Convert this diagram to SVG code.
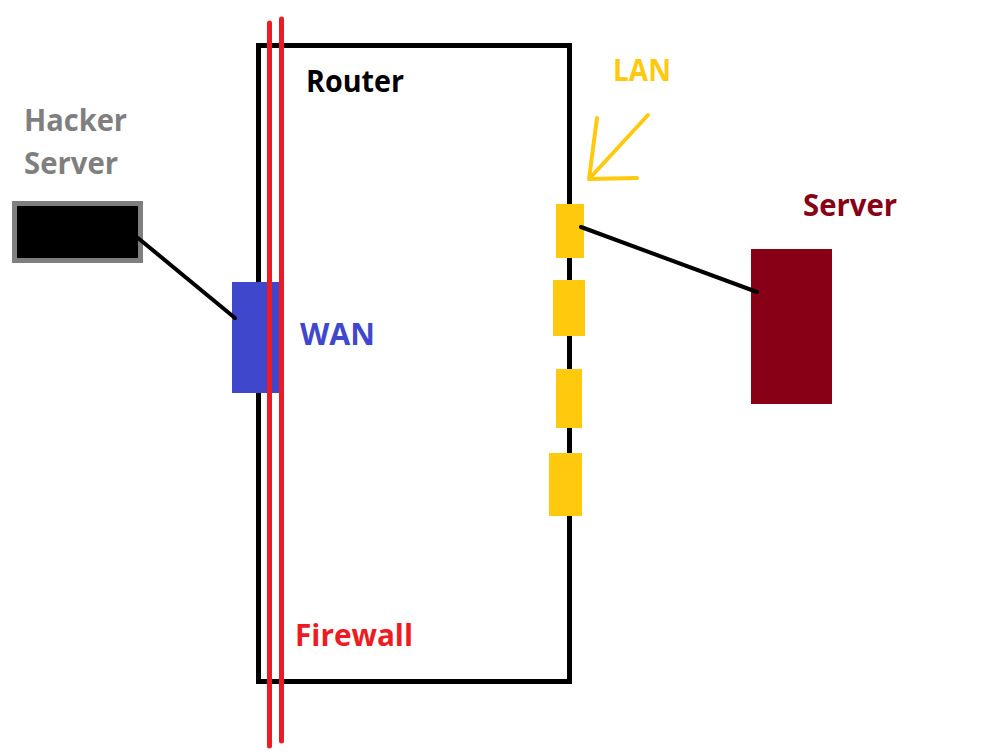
<svg xmlns="http://www.w3.org/2000/svg" width="1003" height="755" viewBox="0 0 1003 755">
<style>
.t{font-family:"Open Sans","Liberation Sans",sans-serif;font-weight:bold;font-size:30px}
.wire{stroke:#000;stroke-width:4;stroke-linecap:round;fill:none}
.fw{stroke:#ED1C24;stroke-width:5;stroke-linecap:round;fill:none}
.lan{fill:#FFC90E}
</style>
<rect width="1003" height="755" fill="#fff"/>
<g id="router">
<rect x="258.5" y="45.5" width="311" height="636" fill="none" stroke="#000" stroke-width="5"/>
<text class="t" x="306" y="92" textLength="98" lengthAdjust="spacingAndGlyphs">Router</text>
</g>
<g id="wan">
<rect x="232" y="282" width="47" height="111" fill="#3F48CC"/>
<text class="t" x="300" y="345" fill="#3F48CC" textLength="75" lengthAdjust="spacingAndGlyphs">WAN</text>
</g>
<g id="firewall">
<line class="fw" x1="269.5" y1="23" x2="269.5" y2="746"/>
<line class="fw" x1="281.5" y1="19" x2="281.5" y2="741"/>
<text class="t" x="295" y="646" fill="#ED1C24" textLength="118" lengthAdjust="spacingAndGlyphs">Firewall</text>
</g>
<g id="lan-ports">
<rect class="lan" x="556" y="204" width="28" height="54"/>
<rect class="lan" x="553" y="280" width="32" height="56"/>
<rect class="lan" x="556" y="369" width="26" height="59"/>
<rect class="lan" x="549" y="453" width="33" height="63"/>
</g>
<g id="lan-label">
<text class="t" x="613" y="81" fill="#FFC90E" textLength="58" lengthAdjust="spacingAndGlyphs">LAN</text>
<path d="M648 115 L589 179 M597 118 L589 179 L637 178" fill="none" stroke="#FFC90E" stroke-width="4" stroke-linecap="round" stroke-linejoin="round"/>
</g>
<g id="hacker-server">
<rect x="14.5" y="203.5" width="126" height="57" fill="#000" stroke="#7F7F7F" stroke-width="5"/>
<text class="t" x="24" y="131" fill="#7F7F7F" textLength="103" lengthAdjust="spacingAndGlyphs">Hacker</text>
<text class="t" x="24" y="174" fill="#7F7F7F" textLength="94" lengthAdjust="spacingAndGlyphs">Server</text>
</g>
<g id="server">
<rect x="751" y="249" width="81" height="155" fill="#880015"/>
<text class="t" x="803" y="216" fill="#880015" textLength="94" lengthAdjust="spacingAndGlyphs">Server</text>
</g>
<g id="connectors">
<line class="wire" x1="138" y1="238" x2="235" y2="318"/>
<line class="wire" x1="581" y1="227" x2="757" y2="292"/>
</g>
</svg>
